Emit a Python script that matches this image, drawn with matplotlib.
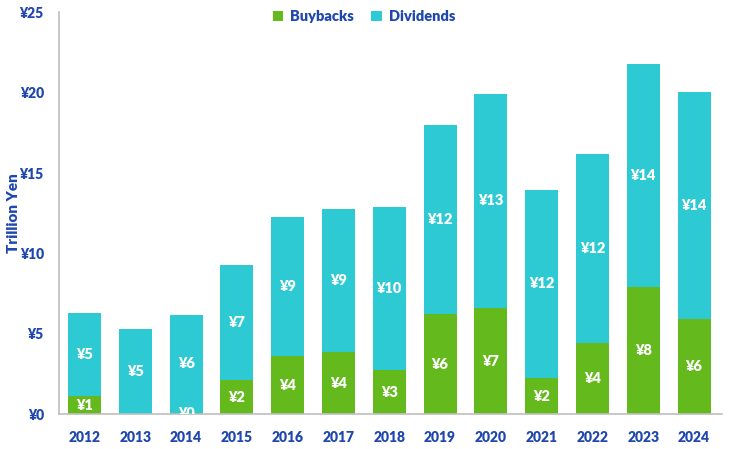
import matplotlib
matplotlib.use('Agg')
import matplotlib.pyplot as plt
import numpy as np

years = ['2012', '2013', '2014', '2015', '2016', '2017', '2018',
         '2019', '2020', '2021', '2022', '2023', '2024']
buybacks = [1.16, 0.0, 0.1, 2.15, 3.6, 3.9, 2.74, 6.22, 6.61, 2.28, 4.44, 7.92, 5.95]
dividends = [5.17, 5.32, 6.1, 7.13, 8.65, 8.85, 10.18, 11.77, 13.33, 11.69, 11.73, 13.87, 14.09]
yticks = [0, 5, 10, 15, 20, 25]

green = '#64BA1D'
cyan = '#2ECAD3'
blue = '#1F47AE'
W = 'heavy'

plt.rcParams['font.family'] = ['Lato', 'DejaVu Sans']

fig = plt.figure(figsize=(7.3, 4.49), dpi=100)
ax = fig.add_axes([0.081, 0.077, 0.908, 0.896])

x = np.arange(len(years))
ax.bar(x, buybacks, width=0.65, color=green, label='Buybacks')
ax.bar(x, dividends, width=0.65, bottom=buybacks, color=cyan, label='Dividends')

# segment labels in white
for i in range(len(years)):
    if buybacks[i] > 0:
        ax.text(x[i], buybacks[i] / 2, f'¥{round(buybacks[i])}', ha='center', va='center',
                color='white', fontsize=10.5, fontweight=W, clip_on=True)
    ax.text(x[i], buybacks[i] + dividends[i] / 2, f'¥{round(dividends[i])}', ha='center',
            va='center', color='white', fontsize=10.5, fontweight=W)

ax.set_xlim(-0.5, 12.55)
ax.set_ylim(0, 25)
ax.set_xticks(x)
ax.set_xticklabels(years)
ax.set_yticks(yticks)
ax.set_yticklabels([f'¥{v}' for v in yticks])
ax.tick_params(axis='both', length=0, labelsize=10, labelcolor=blue)
ax.tick_params(axis='x', pad=12)
ax.tick_params(axis='y', pad=11)
for lbl in ax.get_xticklabels() + ax.get_yticklabels():
    lbl.set_fontweight(W)

for s in ['top', 'right']:
    ax.spines[s].set_visible(False)
ax.spines['left'].set_color('#BFBFBF')
ax.spines['bottom'].set_color('#BFBFBF')
ax.spines['left'].set_linewidth(1.2)
ax.spines['bottom'].set_linewidth(1.2)

fig.text(0.019, 0.525, 'Trillion Yen', rotation=90, ha='center', va='center',
         color=blue, fontsize=11, fontweight=W)

leg = ax.legend(loc='upper center', bbox_to_anchor=(0.46, 1.038), ncol=2, frameon=False,
                handlelength=0.7, handleheight=0.7, handletextpad=0.5, columnspacing=1.2,
                prop={'size': 10.5, 'weight': W})
for t in leg.get_texts():
    t.set_color(blue)

fig.savefig('out.png', dpi=100)
